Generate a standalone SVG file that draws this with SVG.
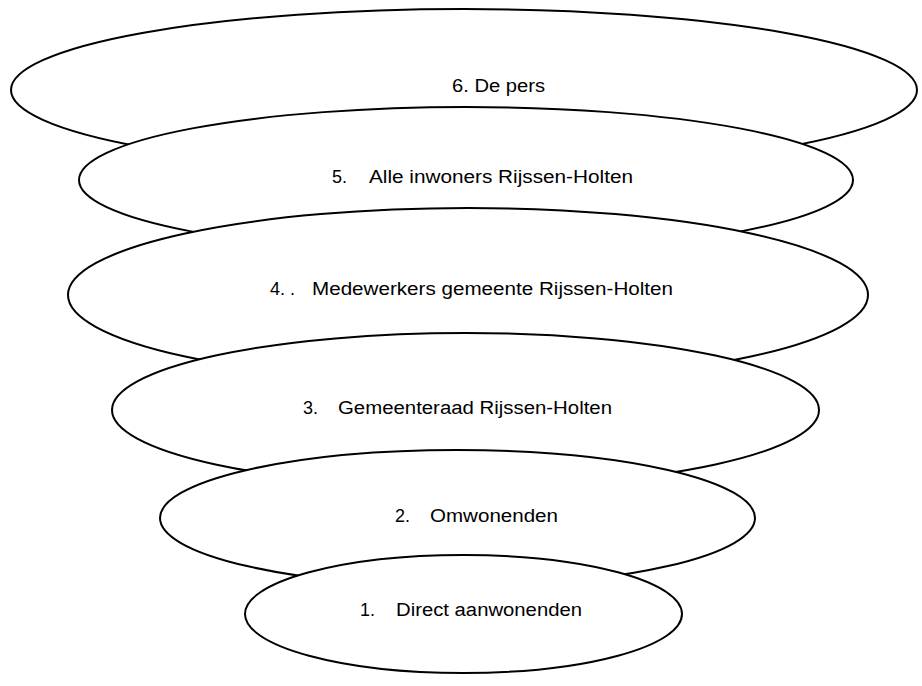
<svg xmlns="http://www.w3.org/2000/svg" width="922" height="686" viewBox="0 0 922 686">
<style>
.e{fill:#fff;stroke:#000;stroke-width:2}
.t{font-family:"Liberation Sans","Noto Sans",sans-serif;font-size:18px;fill:#000}
</style>
<rect width="922" height="686" fill="#fff"/>
<g id="n6"><ellipse class="e" cx="464" cy="90" rx="453" ry="81"/>
<text class="t" x="452" y="92" textLength="93" lengthAdjust="spacingAndGlyphs">6. De pers</text></g>
<g id="n5"><ellipse class="e" cx="466" cy="180" rx="387" ry="73"/>
<text class="t" y="183"><tspan x="332">5.</tspan><tspan x="369" textLength="264" lengthAdjust="spacingAndGlyphs">Alle inwoners Rijssen-Holten</tspan></text></g>
<g id="n4"><ellipse class="e" cx="468" cy="295" rx="400" ry="87"/>
<text class="t" y="295"><tspan x="270">4. .</tspan><tspan x="312" textLength="361" lengthAdjust="spacingAndGlyphs">Medewerkers gemeente Rijssen-Holten</tspan></text></g>
<g id="n3"><ellipse class="e" cx="465.5" cy="410" rx="353.5" ry="77"/>
<text class="t" y="414"><tspan x="303">3.</tspan><tspan x="338" textLength="274" lengthAdjust="spacingAndGlyphs">Gemeenteraad Rijssen-Holten</tspan></text></g>
<g id="n2"><ellipse class="e" cx="457.5" cy="518" rx="297.5" ry="68"/>
<text class="t" y="522"><tspan x="395">2.</tspan><tspan x="430" textLength="128" lengthAdjust="spacingAndGlyphs">Omwonenden</tspan></text></g>
<g id="n1"><ellipse class="e" cx="463.5" cy="614" rx="218.5" ry="59"/>
<text class="t" y="616"><tspan x="360">1.</tspan><tspan x="396" textLength="186" lengthAdjust="spacingAndGlyphs">Direct aanwonenden</tspan></text></g>
<g id="connectors"/>
</svg>
